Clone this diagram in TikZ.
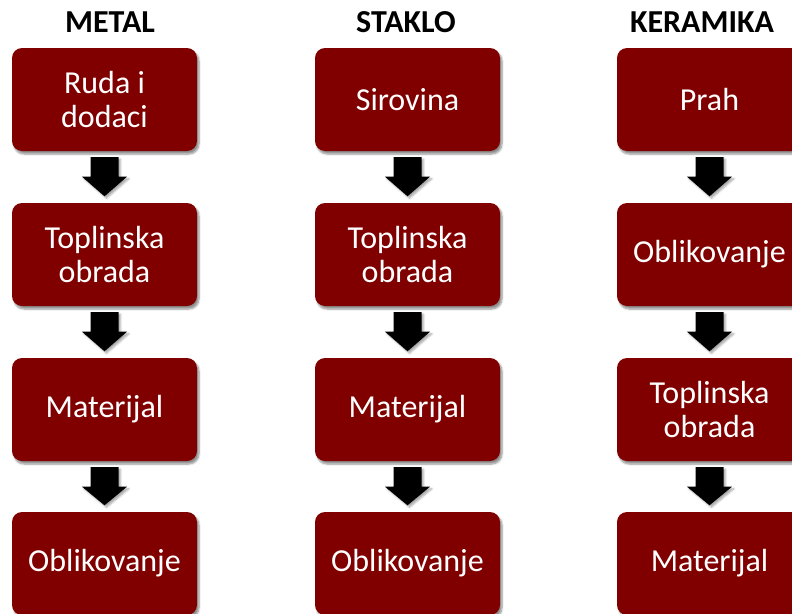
\documentclass[tikz,border=0pt]{standalone}
\usepackage{fontspec}
\setmainfont{Carlito}
\usepackage{tikz}
\usetikzlibrary{calc,shadows.blur}
\definecolor{TamnoCrvena}{RGB}{128, 0, 0}

\begin{document}
\begin{tikzpicture}[x=1pt,y=1pt,
        korak/.style={fill=TamnoCrvena, rounded corners=10pt, minimum width=185pt,
            minimum height=103pt, align=center, text=white,
            font=\fontsize{32}{34}\selectfont,
            blur shadow={shadow xshift=2pt, shadow yshift=-3pt, shadow blur steps=6, shadow opacity=45}},
        naslov/.style={anchor=base, font=\fontsize{32}{34}\selectfont\bfseries},
        blokstrelica/.style={left color=black, middle color=black!75, right color=black,
            blur shadow={shadow xshift=2pt, shadow yshift=-2pt, shadow blur steps=4, shadow opacity=35}}]
        \useasboundingbox (0,0) rectangle (792,-613);

        % Headers
        \node[naslov] (hm) at (110,-32) {METAL};
        \node[naslov] (hs) at (406,-32) {STAKLO};
        \node[naslov] (hk) at (702,-32) {KERAMIKA};

        % Metal
        \node[korak] (m1) at (104.5,-99.5) {Ruda i\\dodaci};
        \node[korak] (m2) at (104.5,-254.5) {Toplinska\\obrada};
        \node[korak] (m3) at (104.5,-409.5) {Materijal};
        \node[korak] (m4) at (104.5,-563.5) {Oblikovanje};

        % Staklo
        \node[korak] (s1) at (407.5,-99.5) {Sirovina};
        \node[korak] (s2) at (407.5,-254.5) {Toplinska\\obrada};
        \node[korak] (s3) at (407.5,-409.5) {Materijal};
        \node[korak] (s4) at (407.5,-563.5) {Oblikovanje};

        % Keramika
        \node[korak] (k1) at (709.5,-99.5) {Prah};
        \node[korak] (k2) at (709.5,-254.5) {Oblikovanje};
        \node[korak] (k3) at (709.5,-409.5) {Toplinska\\obrada};
        \node[korak] (k4) at (709.5,-563.5) {Materijal};

        % Arrows
        \foreach \a/\b in {m1/m2,m2/m3,m3/m4,s1/s2,s2/s3,s3/s4,k1/k2,k2/k3,k3/k4}
            \path[blokstrelica] ($(\a.south)+(-14,-6)$) -- ($(\a.south)+(14,-6)$)
                -- ($(\a.south)+(14,-25.5)$) -- ($(\a.south)+(22.5,-25.5)$)
                -- ($(\b.north)+(0,6.5)$)
                -- ($(\a.south)+(-22.5,-25.5)$) -- ($(\a.south)+(-14,-25.5)$) -- cycle;
    \end{tikzpicture}
\end{document}
